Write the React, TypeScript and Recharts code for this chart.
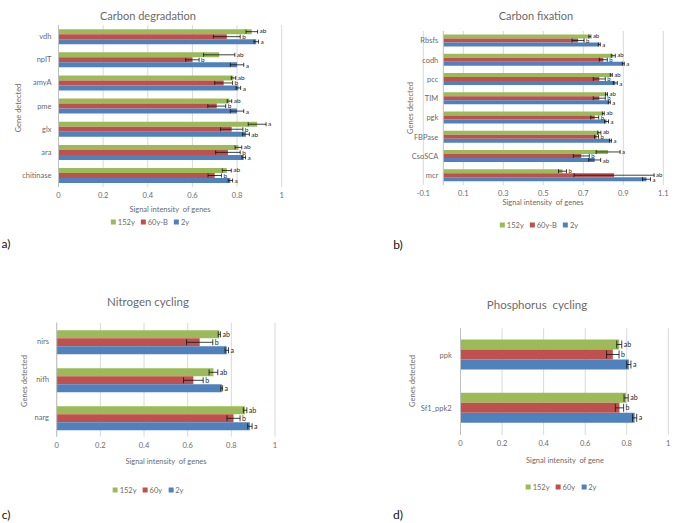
import React from 'react'
import { BarChart, Bar, XAxis, YAxis, CartesianGrid, ErrorBar, LabelList, ReferenceLine } from 'recharts'

const FONT = 'Lato, "Noto Sans", sans-serif'
const GREEN = '#9bbb59'
const RED = '#c0504d'
const BLUE = '#4f81bd'
const GRID = '#d9d9d9'
const TEXT = '#6b6b6b'

// a) Carbon degradation
const degGenes = ['vdh', 'npIT', 'amyA', 'pme', 'glx', 'ara', 'chitinase']
const deg152 = [0.866, 0.72, 0.784, 0.766, 0.89, 0.806, 0.754]
const deg152Err = [0.026, 0.07, 0.01, 0.01, 0.04, 0.015, 0.02]
const deg60 = [0.754, 0.6, 0.74, 0.709, 0.776, 0.759, 0.7]
const deg60Err = [0.06, 0.03, 0.04, 0.04, 0.05, 0.055, 0.03]
const deg2 = [0.886, 0.8, 0.806, 0.8, 0.84, 0.83, 0.77]
const deg2Err = [0.01, 0.03, 0.01, 0.03, 0.015, 0.008, 0.01]
const deg152Letters = ['ab', 'ab', 'ab', 'ab', 'a', 'ab', 'ab']
const deg60Letters = ['b', 'b', 'b', 'b', 'b', 'b', 'b']
const deg2Letters = ['a', 'a', 'a', 'a', 'ab', 'a', 'a']
const degTicks = [0, 0.2, 0.4, 0.6, 0.8, 1]

// b) Carbon fixation
const fixGenes = ['Rbsfs', 'codh', 'pcc', 'TIM', 'pgk', 'FBPase', 'CsoSCA', 'mcr']
const fix152 = [0.733, 0.85, 0.84, 0.816, 0.8, 0.78, 0.824, 0.596]
const fix152Err = [0.005, 0.01, 0.005, 0.005, 0.005, 0.008, 0.06, 0.02]
const fix60 = [0.674, 0.8, 0.78, 0.78, 0.757, 0.766, 0.69, 0.854]
const fix60Err = [0.03, 0.02, 0.03, 0.03, 0.02, 0.01, 0.04, 0.2]
const fix2 = [0.78, 0.9, 0.86, 0.83, 0.816, 0.836, 0.757, 1.016]
const fix2Err = [0.005, 0.005, 0.01, 0.005, 0.01, 0.005, 0.03, 0.02]
const fix152Letters = ['ab', 'ab', 'ab', 'ab', 'ab', 'ab', 'a', 'b']
const fix60Letters = ['b', 'b', 'b', 'b', 'b', 'b', 'b', 'ab']
const fix2Letters = ['a', 'a', 'a', 'a', 'a', 'a', 'ab', 'a']
const fixTicks = [-0.1, 0.1, 0.3, 0.5, 0.7, 0.9, 1.1]

// c) Nitrogen cycling
const nitGenes = ['nirs', 'nifh', 'narg']
const nit152 = [0.745, 0.718, 0.863]
const nit152Err = [0.005, 0.02, 0.008]
const nit60 = [0.655, 0.626, 0.81]
const nit60Err = [0.06, 0.045, 0.03]
const nit2 = [0.779, 0.756, 0.885]
const nit2Err = [0.008, 0.004, 0.01]
const nit152Letters = ['ab', 'ab', 'ab']
const nit60Letters = ['b', 'b', 'b']
const nit2Letters = ['a', 'a', 'a']

// d) Phosphorus cycling
const phoGenes = ['ppk', 'Sf1_ppk2']
const pho152 = [0.764, 0.797]
const pho152Err = [0.012, 0.01]
const pho60 = [0.733, 0.765]
const pho60Err = [0.03, 0.02]
const pho2 = [0.81, 0.838]
const pho2Err = [0.01, 0.01]
const pho152Letters = ['ab', 'ab']
const pho60Letters = ['b', 'b']
const pho2Letters = ['a', 'a']

const unitTicks = [0, 0.2, 0.4, 0.6, 0.8, 1]

type SeriesSet = {
  genes: string[]
  v152: number[]; e152: number[]; l152: string[]
  v60: number[]; e60: number[]; l60: string[]
  v2: number[]; e2: number[]; l2: string[]
}

function rowsOf(s: SeriesSet) {
  return s.genes.map((g, i) => ({
    gene: g,
    s152: s.v152[i], e152: s.e152[i], l152: s.l152[i],
    s60: s.v60[i], e60: s.e60[i], l60: s.l60[i],
    s2: s.v2[i], e2: s.e2[i], l2: s.l2[i],
  }))
}

// letter sits just right of the error bar; px per unit comes from the bar itself
function letterLabel(vals: number[], errs: number[], size: number, dy: number) {
  return (p: any) => {
    const vb = p.viewBox && p.viewBox.width != null ? p.viewBox : p
    const { x, y, width, height } = vb
    const i = p.index
    if (p.value == null || i == null) return null
    const errPx = vals[i] ? (width / vals[i]) * errs[i] : 0
    return (
      <text x={x + width + errPx + 2} y={y + height / 2 + dy} dy="0.35em" fontSize={size} fill="#222" fontFamily={FONT}>
        {p.value}
      </text>
    )
  }
}

const CatTick = (props: any) => {
  const { x, y, payload, shift = 0 } = props
  return (
    <text x={x + shift} y={y} dy="0.35em" textAnchor="end" fontSize={7.5} fill={TEXT} fontFamily={FONT}>
      {payload.value}
    </text>
  )
}

type PanelProps = {
  series: SeriesSet
  left: number; top: number; width: number; height: number
  margin: { top: number; right: number }
  yWidth: number; xHeight: number
  ticks: number[]; domain: [number, number]
  gap: string
  capWidth: number
  letterSize: number
  letterSpread: number
  labelShift?: number
  labelMargin?: number
  zeroLine?: boolean
}

function GenePanel(p: PanelProps) {
  const data = rowsOf(p.series)
  const s = p.series
  return (
    <div style={{ position: 'absolute', left: p.left, top: p.top }}>
      <BarChart
        width={p.width}
        height={p.height}
        data={data}
        layout="vertical"
        margin={{ top: p.margin.top, right: p.margin.right, bottom: 0, left: 0 }}
        barCategoryGap={p.gap}
        barGap={0}
      >
        <CartesianGrid horizontal={false} stroke={GRID} />
        <XAxis
          type="number"
          domain={p.domain}
          ticks={p.ticks}
          interval={0}
          height={p.xHeight}
          axisLine={false}
          tickLine={false}
          tickSize={0}
          tickMargin={6}
          tick={{ fontSize: 7.5, fill: TEXT, fontFamily: FONT }}
        />
        <YAxis
          type="category"
          dataKey="gene"
          width={p.yWidth}
          interval={0}
          axisLine={p.zeroLine ? false : { stroke: '#bfbfbf' }}
          tickLine={false}
          tickSize={0}
          tickMargin={p.labelMargin ?? 0}
          tick={<CatTick shift={p.labelShift ?? 0} />}
        />
        {p.zeroLine && <ReferenceLine x={0} stroke="#bfbfbf" />}
        <Bar dataKey="s152" fill={GREEN} isAnimationActive={false}>
          <ErrorBar dataKey="e152" direction="x" width={p.capWidth} stroke="#111" strokeWidth={0.8} />
          <LabelList dataKey="l152" content={letterLabel(s.v152, s.e152, p.letterSize, -p.letterSpread)} />
        </Bar>
        <Bar dataKey="s60" fill={RED} isAnimationActive={false}>
          <ErrorBar dataKey="e60" direction="x" width={p.capWidth} stroke="#111" strokeWidth={0.8} />
          <LabelList dataKey="l60" content={letterLabel(s.v60, s.e60, p.letterSize, 0)} />
        </Bar>
        <Bar dataKey="s2" fill={BLUE} isAnimationActive={false}>
          <ErrorBar dataKey="e2" direction="x" width={p.capWidth} stroke="#111" strokeWidth={0.8} />
          <LabelList dataKey="l2" content={letterLabel(s.v2, s.e2, p.letterSize, p.letterSpread)} />
        </Bar>
      </BarChart>
    </div>
  )
}

const Txt = ({ x, y, size, color = TEXT, rotate = 0, children }: any) => (
  <div
    style={{
      position: 'absolute', left: x, top: y, fontSize: size, color, fontFamily: FONT,
      whiteSpace: 'pre', lineHeight: 1,
      transform: `translate(-50%, -50%) rotate(${rotate}deg)`,
    }}
  >
    {children}
  </div>
)

const Legend3 = ({ x, y, labels }: { x: number; y: number; labels: string[] }) => {
  const colors = [GREEN, RED, BLUE]
  return (
    <div
      style={{
        position: 'absolute', left: x, top: y, transform: 'translate(-50%, -50%)',
        display: 'flex', gap: 6, fontSize: 7.5, color: TEXT, fontFamily: FONT, whiteSpace: 'nowrap',
      }}
    >
      {labels.map((l, i) => (
        <span key={l} style={{ display: 'flex', alignItems: 'center', gap: 2 }}>
          <span style={{ width: 5, height: 5, background: colors[i], display: 'inline-block' }} />
          {l}
        </span>
      ))}
    </div>
  )
}

export default function App() {
  const deg: SeriesSet = {
    genes: degGenes, v152: deg152, e152: deg152Err, l152: deg152Letters,
    v60: deg60, e60: deg60Err, l60: deg60Letters, v2: deg2, e2: deg2Err, l2: deg2Letters,
  }
  const fix: SeriesSet = {
    genes: fixGenes, v152: fix152, e152: fix152Err, l152: fix152Letters,
    v60: fix60, e60: fix60Err, l60: fix60Letters, v2: fix2, e2: fix2Err, l2: fix2Letters,
  }
  const nit: SeriesSet = {
    genes: nitGenes, v152: nit152, e152: nit152Err, l152: nit152Letters,
    v60: nit60, e60: nit60Err, l60: nit60Letters, v2: nit2, e2: nit2Err, l2: nit2Letters,
  }
  const pho: SeriesSet = {
    genes: phoGenes, v152: pho152, e152: pho152Err, l152: pho152Letters,
    v60: pho60, e60: pho60Err, l60: pho60Letters, v2: pho2, e2: pho2Err, l2: pho2Letters,
  }

  return (
    <div style={{ position: 'absolute', left: 0, top: 0, width: 685, height: 523, background: '#fff', overflow: 'hidden' }}>
      {/* a) */}
      <GenePanel series={deg} left={0} top={0} width={300} height={215}
        margin={{ top: 25, right: 18.3 }} yWidth={58.5} xHeight={28}
        ticks={degTicks} domain={[0, 1]} gap="18%" capWidth={2} labelMargin={7}
        letterSize={6.5} letterSpread={0.5} />
      <Txt x={148} y={15} size={11}>Carbon degradation</Txt>
      <Txt x={19} y={108} size={7.5} rotate={-90}>Gene detected</Txt>
      <Txt x={170} y={210} size={7.5}>Signal intensity  of genes</Txt>
      <Legend3 x={150} y={222} labels={['152y', '60y-B', '2y']} />
      <Txt x={6} y={244} size={12} color="#111">a)</Txt>

      {/* b) */}
      <GenePanel series={fix} left={340} top={0} width={340} height={215}
        margin={{ top: 31, right: 16.7 }} yWidth={83.3} xHeight={30}
        ticks={fixTicks} domain={[-0.1, 1.1]} gap="18%" capWidth={2} labelShift={15} zeroLine
        letterSize={6} letterSpread={0.5} />
      <Txt x={536} y={15} size={11}>Carbon fixation</Txt>
      <Txt x={411} y={108} size={7.5} rotate={-90}>Genes detected</Txt>
      <Txt x={543} y={203} size={7.5}>Signal intensity  of genes</Txt>
      <Legend3 x={539} y={225} labels={['152y', '60y-B', '2y']} />
      <Txt x={398} y={245} size={12} color="#111">b)</Txt>

      {/* c) */}
      <GenePanel series={nit} left={0} top={270} width={300} height={200}
        margin={{ top: 52.7, right: 25 }} yWidth={56.7} xHeight={33.3}
        ticks={unitTicks} domain={[0, 1]} gap="20%" capWidth={3} labelMargin={7.7}
        letterSize={7} letterSpread={0} />
      <Txt x={148} y={302} size={11.5}>Nitrogen cycling</Txt>
      <Txt x={25} y={381} size={7.5} rotate={-90}>Genes detected</Txt>
      <Txt x={166} y={462} size={7.5}>Signal intensity  of genes</Txt>
      <Legend3 x={148} y={490} labels={['152y', '60y', '2y']} />
      <Txt x={6} y={515} size={12} color="#111">c)</Txt>

      {/* d) */}
      <GenePanel series={pho} left={340} top={270} width={340} height={200}
        margin={{ top: 58.3, right: 11.7 }} yWidth={120.5} xHeight={35}
        ticks={unitTicks} domain={[0, 1]} gap="21%" capWidth={4} labelMargin={8.8}
        letterSize={7} letterSpread={0} />
      <Txt x={537} y={305} size={11.5}>Phosphorus  cycling</Txt>
      <Txt x={413} y={381} size={7.5} rotate={-90}>Genes detected</Txt>
      <Txt x={565} y={461} size={7.5}>Signal intensity  of gene</Txt>
      <Legend3 x={561} y={487} labels={['152y', '60y', '2y']} />
      <Txt x={398} y={515} size={12} color="#111">d)</Txt>
    </div>
  )
}
